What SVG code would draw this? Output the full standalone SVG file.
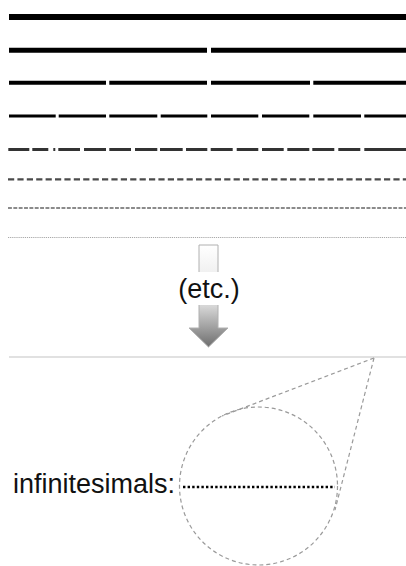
<svg xmlns="http://www.w3.org/2000/svg" width="406" height="566" viewBox="0 0 406 566">
  <defs>
    <linearGradient id="arrowGrad" gradientUnits="userSpaceOnUse" x1="0" y1="245" x2="0" y2="347">
      <stop offset="0" stop-color="#ffffff"/>
      <stop offset="0.3" stop-color="#efefef"/>
      <stop offset="0.6" stop-color="#d6d6d6"/>
      <stop offset="1" stop-color="#6e6e6e"/>
    </linearGradient>
  </defs>
  <style>
    .lbl { font-family: "Liberation Sans", Arial, sans-serif; font-size: 27px; fill: #111; }
    .zoom { fill: none; stroke: #9a9a9a; stroke-width: 1.2; stroke-dasharray: 4 3; }
  </style>
  <rect width="406" height="566" fill="#ffffff"/>

  <g id="line1"><line x1="9" y1="17" x2="406" y2="17" stroke="#000" stroke-width="6"/></g>
  <g id="line2" stroke="#000" stroke-width="5">
    <line x1="9" y1="50.2" x2="207" y2="50.2"/>
    <line x1="211" y1="50.2" x2="406" y2="50.2"/>
  </g>
  <g id="line3" stroke="#000" stroke-width="4">
    <line x1="9" y1="82.7" x2="106" y2="82.7"/>
    <line x1="109.3" y1="82.7" x2="207" y2="82.7"/>
    <line x1="211" y1="82.7" x2="310" y2="82.7"/>
    <line x1="313.3" y1="82.7" x2="406" y2="82.7"/>
  </g>
  <g id="line4" stroke="#000" stroke-width="3.2">
    <line x1="9" y1="116" x2="55.7" y2="116"/>
    <line x1="58.7" y1="116" x2="106" y2="116"/>
    <line x1="109.3" y1="116" x2="157.3" y2="116"/>
    <line x1="160.7" y1="116" x2="207.3" y2="116"/>
    <line x1="211" y1="116" x2="258.3" y2="116"/>
    <line x1="262" y1="116" x2="309.3" y2="116"/>
    <line x1="313.3" y1="116" x2="361" y2="116"/>
    <line x1="364.3" y1="116" x2="406" y2="116"/>
  </g>
  <g id="line5" stroke="#333" stroke-width="3">
    <line x1="8.3" y1="149.5" x2="29.3" y2="149.5"/>
    <line x1="32.3" y1="149.5" x2="48.3" y2="149.5"/>
    <line x1="53.3" y1="149.5" x2="55.3" y2="149.5"/>
    <line x1="58.3" y1="149.5" x2="80" y2="149.5"/>
    <line x1="84" y1="149.5" x2="106" y2="149.5"/>
    <line x1="109.3" y1="149.5" x2="131" y2="149.5"/>
    <line x1="135" y1="149.5" x2="157.3" y2="149.5"/>
    <line x1="160" y1="149.5" x2="182.7" y2="149.5"/>
    <line x1="186" y1="149.5" x2="207.3" y2="149.5"/>
    <line x1="210.7" y1="149.5" x2="232.7" y2="149.5"/>
    <line x1="236.7" y1="149.5" x2="258.3" y2="149.5"/>
    <line x1="262" y1="149.5" x2="283.7" y2="149.5"/>
    <line x1="287.3" y1="149.5" x2="309.3" y2="149.5"/>
    <line x1="312.3" y1="149.5" x2="334.3" y2="149.5"/>
    <line x1="338.3" y1="149.5" x2="360.3" y2="149.5"/>
    <line x1="364.3" y1="149.5" x2="406" y2="149.5"/>
  </g>
  <g id="line6"><line x1="8" y1="179.3" x2="406" y2="179.3" stroke="#4a4a4a" stroke-width="2.2" stroke-dasharray="6.2 3.2"/></g>
  <g id="line7"><line x1="8" y1="208" x2="406" y2="208" stroke="#666" stroke-width="1.6" stroke-dasharray="3.9 1.45"/></g>
  <g id="line8"><line x1="8" y1="237.5" x2="406" y2="237.5" stroke="#a8a8a8" stroke-width="1.1" stroke-dasharray="1.2 0.9"/></g>

  <g id="etc-arrow">
    <path d="M199,245 H218 V328 H228 L208.5,347 L189,328 H199 Z" fill="url(#arrowGrad)" stroke="#b0b0b0" stroke-width="1"/>
    <rect x="185" y="272" width="48" height="33" fill="#ffffff"/>
    <text class="lbl" x="209" y="298" text-anchor="middle">(etc.)</text>
  </g>

  <g id="baseline"><line x1="9" y1="357" x2="406" y2="357" stroke="#c4c4c4" stroke-width="1.2"/></g>

  <g id="magnifier">
    <circle class="zoom" cx="258.5" cy="486" r="79"/>
    <line class="zoom" x1="374" y1="358" x2="222" y2="416"/>
    <line class="zoom" x1="374" y1="358" x2="335" y2="510"/>
  </g>

  <g id="infinitesimals">
    <text class="lbl" x="13" y="493">infinitesimals:</text>
    <line x1="183" y1="487" x2="335" y2="487" stroke="#000" stroke-width="2.5" stroke-dasharray="2.4 2.2"/>
  </g>
</svg>
